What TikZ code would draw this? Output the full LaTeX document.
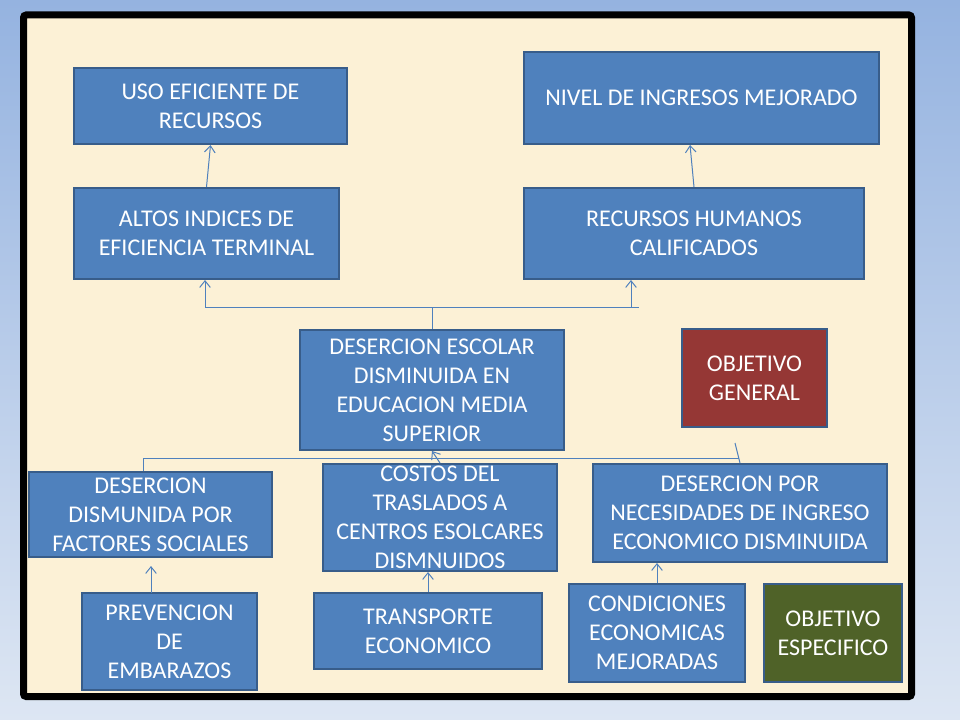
\documentclass[tikz,border=0pt]{standalone}
\usepackage{fontspec}
\setmainfont{Carlito}
\usepackage{tikz}
\usetikzlibrary{arrows.meta}
\definecolor{boxblue}{RGB}{79,129,189}
\definecolor{boxline}{RGB}{56,93,138}
\definecolor{goalred}{RGB}{149,55,53}
\definecolor{goalgreen}{RGB}{79,98,40}
\definecolor{paper}{RGB}{252,241,214}
\definecolor{skytop}{RGB}{149,179,224}
\definecolor{skybottom}{RGB}{221,230,243}
\tikzset{
  >={Straight Barb[length=5pt, width=8pt]},
  box/.style = {draw=boxline, line width=1.5pt, fill=boxblue, text=white,
    align=center, inner sep=0pt, font=\fontsize{18}{21.75}\selectfont},
  link/.style = {draw=boxblue, line width=0.75pt},
}

\begin{document}
\begin{tikzpicture}[x=0.75pt, y=-0.75pt]
    \useasboundingbox (0,0) rectangle (960,720);
    \fill [top color=skytop, bottom color=skybottom] (0,0) rectangle (960,720);
    \draw [line width=5.25pt, rounded corners=2pt, fill=paper] (23.5,15) rectangle (911.5,696.5);

    \node [box, minimum width=204.75pt, minimum height=57pt] (uso) at (210.5,106) {USO EFICIENTE DE\\RECURSOS};
    \node [box, minimum width=198.75pt, minimum height=68.25pt] (altos) at (206.5,233.5) {ALTOS INDICES DE\\EFICIENCIA TERMINAL};
    \node [box, minimum width=266.25pt, minimum height=69pt] (nivel) at (701.5,98) {NIVEL DE INGRESOS MEJORADO};
    \node [box, minimum width=255pt, minimum height=68.25pt] (rrhh) at (694,233.5) {RECURSOS HUMANOS\\CALIFICADOS};
    \node [box, minimum width=198pt, minimum height=90pt] (desercion) at (432,390) {DESERCION ESCOLAR\\DISMINUIDA EN\\EDUCACION MEDIA\\SUPERIOR};
    \node [box, fill=goalred, minimum width=108.75pt, minimum height=73.5pt] (general) at (754.5,378) {OBJETIVO\\GENERAL};
    \node [box, minimum width=182.25pt, minimum height=63.75pt] (sociales) at (150.5,514.5) {DESERCION\\DISMUNIDA POR\\FACTORES SOCIALES};
    \node [box, minimum width=175.5pt, minimum height=80.25pt] (costos) at (440,517.5) {COSTOS DEL\\TRASLADOS A\\CENTROS ESOLCARES\\DISMNUIDOS};
    \node [box, minimum width=220.5pt, minimum height=73.5pt] (ingreso) at (740,513) {DESERCION POR\\NECESIDADES DE INGRESO\\ECONOMICO DISMINUIDA};
    \node [box, minimum width=131.25pt, minimum height=72.75pt] (embarazos) at (169.5,641.5) {PREVENCION\\DE\\EMBARAZOS};
    \node [box, minimum width=171pt, minimum height=57pt] (transporte) at (428,631) {TRANSPORTE\\ECONOMICO};
    \node [box, minimum width=132pt, minimum height=73.5pt] (condiciones) at (657,633) {CONDICIONES\\ECONOMICAS\\MEJORADAS};
    \node [box, fill=goalgreen, minimum width=103.5pt, minimum height=73.5pt] (especifico) at (833,633) {OBJETIVO\\ESPECIFICO};

    % upper level
    \draw [link, ->] (altos.north) -- (uso.south);
    \draw [link, ->] (rrhh.north) -- ([xshift=-8.6pt]nivel.south);
    \coordinate (upL) at (205,308);
    \coordinate (upR) at (639,308);
    \coordinate (upA) at (631,308);
    \draw [link] (upL) -- (upR);
    \draw [link] (desercion.north) -- (desercion.north |- upL);
    \draw [link, ->] (upL) -- (upL |- altos.south);
    \draw [link, ->] (upA) -- (upA |- rrhh.south);

    % lower level
    \coordinate (lowL) at (143,458);
    \coordinate (lowR) at (739,458);
    \coordinate (lowTop) at (735,443);
    \coordinate (embTop) at (151,593);
    \draw [link] (lowL) -- (lowR);
    \draw [link] (lowL) -- (lowL |- sociales.north);
    \draw [link] (ingreso.north) -- (lowTop);
    \draw [link, ->] (costos.north) -- (desercion.south);
    \draw [link, ->] (transporte.north) -- (transporte.north |- costos.south);
    \draw [link, ->] (condiciones.north) -- (condiciones.north |- ingreso.south);
    \draw [link, ->, shorten >=6pt] (embTop) -- (embTop |- sociales.south);
\end{tikzpicture}
\end{document}
